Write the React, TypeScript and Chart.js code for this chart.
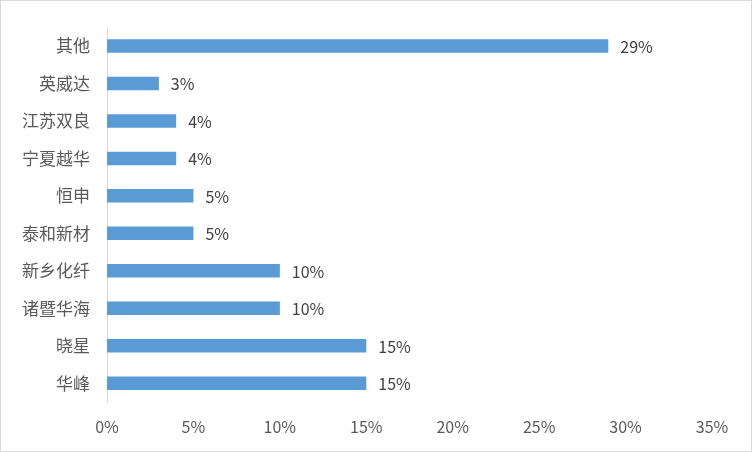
import React, { useEffect, useRef } from "react";
import { Chart, registerables } from "chart.js";

Chart.register(...registerables);

const categories = ["其他", "英威达", "江苏双良", "宁夏越华", "恒申", "泰和新材", "新乡化纤", "诸暨华海", "晓星", "华峰"];
const shares = [29, 3, 4, 4, 5, 5, 10, 10, 15, 15];
const xTicks = [0, 5, 10, 15, 20, 25, 30, 35];

const FONT = "'Noto Sans CJK SC', 'Noto Sans', sans-serif";

const framePlugin = {
  id: "frame",
  beforeDraw(chart: any) {
    const { ctx, width, height } = chart;
    ctx.save();
    ctx.fillStyle = "#ffffff";
    ctx.fillRect(0, 0, width, height);
    ctx.strokeStyle = "#d9d9d9";
    ctx.lineWidth = 1;
    ctx.strokeRect(0.5, 0.5, width - 1, height - 1);
    ctx.restore();
  },
  afterDatasetsDraw(chart: any) {
    const { ctx } = chart;
    const meta = chart.getDatasetMeta(0);
    ctx.save();
    ctx.fillStyle = "#404040";
    ctx.font = `16px ${FONT}`;
    ctx.textAlign = "left";
    ctx.textBaseline = "middle";
    meta.data.forEach((bar: any, i: number) => {
      ctx.fillText(shares[i] + "%", bar.x + 12, bar.y + 1);
    });
    ctx.restore();
  },
};

export default function App() {
  const ref = useRef<HTMLCanvasElement>(null);
  useEffect(() => {
    const chart = new Chart(ref.current!, {
      type: "bar",
      data: {
        labels: categories,
        datasets: [
          {
            data: shares,
            backgroundColor: "#5b9bd5",
            barPercentage: 0.36,
            categoryPercentage: 1,
          },
        ],
      },
      options: {
        indexAxis: "y",
        animation: false,
        responsive: false,
        layout: { padding: { top: 24, right: 40, left: 0, bottom: 0 } },
        plugins: { legend: { display: false }, tooltip: { enabled: false } },
        scales: {
          x: {
            min: 0,
            max: 35,
            afterBuildTicks(scale: any) {
              scale.ticks = xTicks.map((v) => ({ value: v }));
            },
            afterFit(scale: any) {
              scale.height = 50;
            },
            grid: { display: false, drawTicks: false },
            border: { display: false },
            ticks: {
              padding: 15,
              color: "#595959",
              font: { family: FONT, size: 16 },
              callback: (v: any) => v + "%",
            },
          },
          y: {
            afterFit(scale: any) {
              scale.width = 107;
            },
            grid: { display: false, drawTicks: false },
            border: { display: true, color: "#d9d9d9", width: 1 },
            ticks: {
              padding: 17,
              color: "#595959",
              font: { family: FONT, size: 17 },
            },
          },
        },
      },
      plugins: [framePlugin],
    });
    return () => chart.destroy();
  }, []);
  return (
    <div style={{ position: "fixed", left: 0, top: 0, width: 752, height: 452 }}>
      <canvas ref={ref} width={752} height={452} style={{ width: 752, height: 452 }} />
    </div>
  );
}
